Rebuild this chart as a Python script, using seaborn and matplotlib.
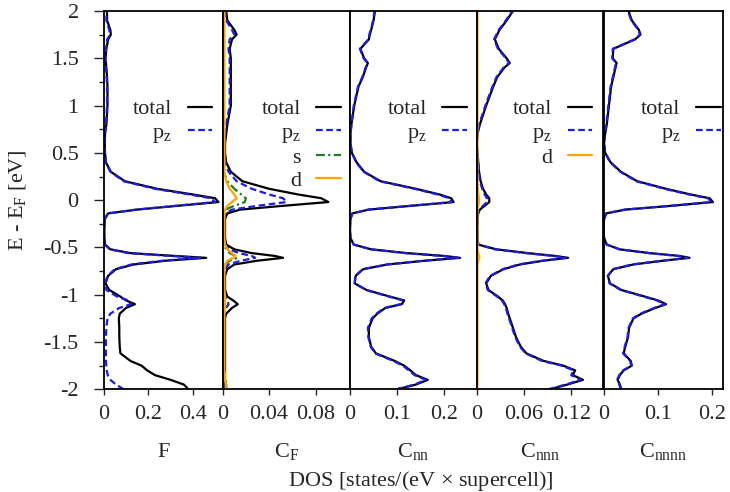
import matplotlib
matplotlib.use('Agg')
import seaborn as sns
import matplotlib.pyplot as plt
from matplotlib.ticker import MultipleLocator

# energy grid, E - E_F in eV
energy = [2.0, 1.9, 1.8, 1.75, 1.7, 1.6, 1.5, 1.45, 1.4, 1.3,
          1.2, 1.0, 0.8, 0.7, 0.6, 0.5, 0.4, 0.3, 0.2, 0.12,
          0.06, 0.02, -0.02, -0.06, -0.1, -0.14, -0.2, -0.3, -0.4, -0.47,
          -0.52, -0.56, -0.59, -0.61, -0.64, -0.68, -0.73, -0.8, -0.88, -0.95,
          -1.02, -1.06, -1.1, -1.14, -1.2, -1.25, -1.35, -1.45, -1.55, -1.62,
          -1.7, -1.75, -1.8, -1.85, -1.9, -1.95, -2.0]

# F
f_total = [0.015, 0.015, 0.030, 0.032, 0.020, 0.012, 0.008, 0.010, 0.012, 0.015,
           0.017, 0.017, 0.012, 0.006, 0.005, 0.006, 0.010, 0.032, 0.095, 0.240,
           0.400, 0.500, 0.515, 0.330, 0.150, 0.020, 0.005, 0.003, 0.003, 0.006,
           0.030, 0.120, 0.320, 0.460, 0.280, 0.135, 0.055, 0.020, 0.008, 0.025,
           0.075, 0.100, 0.140, 0.100, 0.072, 0.068, 0.070, 0.070, 0.072, 0.075,
           0.120, 0.170, 0.195, 0.230, 0.300, 0.360, 0.380]
f_pz = [0.012, 0.012, 0.025, 0.028, 0.016, 0.010, 0.007, 0.008, 0.010, 0.013,
        0.015, 0.015, 0.010, 0.005, 0.004, 0.005, 0.009, 0.030, 0.090, 0.230,
        0.385, 0.480, 0.500, 0.320, 0.145, 0.018, 0.004, 0.002, 0.002, 0.005,
        0.028, 0.110, 0.300, 0.430, 0.265, 0.125, 0.050, 0.017, 0.006, 0.012,
        0.060, 0.110, 0.122, 0.070, 0.030, 0.017, 0.012, 0.010, 0.010, 0.010,
        0.010, 0.012, 0.014, 0.018, 0.030, 0.055, 0.090]

# C_F
cf_total = [0.003, 0.004, 0.010, 0.012, 0.008, 0.006, 0.007, 0.007, 0.007, 0.007,
            0.007, 0.007, 0.004, 0.003, 0.002, 0.002, 0.003, 0.007, 0.017, 0.040,
            0.065, 0.085, 0.091, 0.052, 0.015, 0.004, 0.002, 0.002, 0.002, 0.003,
            0.010, 0.025, 0.045, 0.052, 0.030, 0.010, 0.004, 0.002, 0.002, 0.002,
            0.004, 0.009, 0.013, 0.008, 0.003, 0.002, 0.002, 0.002, 0.002, 0.002,
            0.002, 0.002, 0.002, 0.002, 0.002, 0.003, 0.003]
cf_pz = [0.002, 0.003, 0.008, 0.010, 0.006, 0.005, 0.006, 0.006, 0.006, 0.006,
         0.006, 0.006, 0.003, 0.002, 0.001, 0.001, 0.002, 0.005, 0.012, 0.025,
         0.040, 0.052, 0.055, 0.030, 0.008, 0.002, 0.001, 0.001, 0.001, 0.002,
         0.006, 0.014, 0.025, 0.028, 0.016, 0.005, 0.002, 0.001, 0.001, 0.001,
         0.002, 0.004, 0.005, 0.003, 0.001, 0.001, 0.001, 0.001, 0.001, 0.001,
         0.001, 0.001, 0.001, 0.001, 0.001, 0.001, 0.001]
cf_s = [0.0005, 0.0005, 0.0005, 0.0005, 0.0005, 0.0005, 0.0005, 0.0005, 0.0005, 0.0005,
        0.0005, 0.0005, 0.0005, 0.0005, 0.0005, 0.0005, 0.0005, 0.001, 0.004, 0.010,
        0.016, 0.020, 0.019, 0.010, 0.002, 0.0005, 0.0005, 0.0005, 0.0005, 0.001,
        0.003, 0.006, 0.011, 0.013, 0.006, 0.002, 0.0005, 0.0005, 0.0005, 0.0005,
        0.0005, 0.0005, 0.0005, 0.0005, 0.0005, 0.0005, 0.0005, 0.0005, 0.0005, 0.0005,
        0.0005, 0.0005, 0.0005, 0.0005, 0.0005, 0.0005, 0.0005]
cf_d = [0.0015, 0.0015, 0.0015, 0.0015, 0.0015, 0.0015, 0.0015, 0.0015, 0.0015, 0.0015,
        0.0015, 0.0015, 0.0015, 0.0015, 0.0015, 0.0015, 0.0015, 0.0015, 0.003, 0.006,
        0.010, 0.012, 0.008, 0.004, 0.002, 0.0015, 0.0015, 0.0015, 0.0015, 0.002,
        0.004, 0.008, 0.011, 0.009, 0.004, 0.002, 0.0015, 0.0015, 0.0015, 0.0015,
        0.002, 0.002, 0.002, 0.002, 0.0015, 0.0015, 0.0015, 0.0015, 0.0015, 0.0015,
        0.0015, 0.0015, 0.0015, 0.002, 0.002, 0.003, 0.003]

# C_nn
cnn_total = [0.053, 0.050, 0.045, 0.042, 0.040, 0.022, 0.030, 0.038, 0.034, 0.027,
             0.018, 0.009, 0.003, 0.001, 0.001, 0.004, 0.014, 0.030, 0.065, 0.140,
             0.190, 0.215, 0.220, 0.130, 0.040, 0.005, 0.001, 0.000, 0.001, 0.008,
             0.045, 0.120, 0.200, 0.234, 0.160, 0.080, 0.028, 0.012, 0.010, 0.035,
             0.085, 0.115, 0.110, 0.075, 0.058, 0.048, 0.040, 0.040, 0.045, 0.055,
             0.095, 0.115, 0.128, 0.140, 0.165, 0.140, 0.100]
cnn_pz = [0.052, 0.049, 0.044, 0.041, 0.039, 0.021, 0.029, 0.037, 0.033, 0.026,
          0.017, 0.008, 0.003, 0.001, 0.001, 0.004, 0.013, 0.029, 0.063, 0.137,
          0.186, 0.211, 0.216, 0.127, 0.039, 0.005, 0.001, 0.000, 0.001, 0.008,
          0.044, 0.117, 0.196, 0.229, 0.157, 0.078, 0.027, 0.011, 0.010, 0.034,
          0.083, 0.112, 0.107, 0.073, 0.056, 0.046, 0.038, 0.039, 0.044, 0.053,
          0.092, 0.112, 0.125, 0.137, 0.161, 0.137, 0.098]

# C_nnn
cnnn_total = [0.046, 0.038, 0.029, 0.026, 0.023, 0.028, 0.038, 0.042, 0.035, 0.026,
              0.021, 0.012, 0.004, 0.001, 0.000, 0.001, 0.002, 0.003, 0.005, 0.008,
              0.012, 0.016, 0.016, 0.010, 0.004, 0.002, 0.001, 0.001, 0.001, 0.002,
              0.025, 0.065, 0.100, 0.116, 0.085, 0.055, 0.034, 0.018, 0.012, 0.015,
              0.027, 0.033, 0.036, 0.038, 0.040, 0.042, 0.046, 0.050, 0.056, 0.063,
              0.085, 0.110, 0.125, 0.122, 0.135, 0.115, 0.093]
cnnn_pz = [0.045, 0.037, 0.028, 0.025, 0.022, 0.027, 0.037, 0.041, 0.034, 0.025,
           0.020, 0.011, 0.003, 0.001, 0.000, 0.001, 0.002, 0.003, 0.004, 0.007,
           0.010, 0.013, 0.013, 0.008, 0.003, 0.001, 0.001, 0.001, 0.001, 0.002,
           0.023, 0.062, 0.097, 0.113, 0.083, 0.053, 0.033, 0.017, 0.011, 0.014,
           0.026, 0.032, 0.035, 0.037, 0.039, 0.041, 0.045, 0.049, 0.055, 0.062,
           0.083, 0.108, 0.123, 0.120, 0.132, 0.113, 0.091]
cnnn_d = [0.001, 0.001, 0.001, 0.001, 0.001, 0.001, 0.001, 0.001, 0.001, 0.001,
          0.001, 0.001, 0.001, 0.001, 0.001, 0.001, 0.001, 0.001, 0.001, 0.0015,
          0.002, 0.003, 0.003, 0.002, 0.001, 0.001, 0.001, 0.001, 0.001, 0.001,
          0.001, 0.002, 0.003, 0.0035, 0.002, 0.001, 0.001, 0.001, 0.001, 0.001,
          0.001, 0.001, 0.001, 0.001, 0.001, 0.001, 0.001, 0.001, 0.001, 0.001,
          0.001, 0.001, 0.001, 0.001, 0.001, 0.001, 0.001]

# C_nnnn
cnnnn_total = [0.046, 0.052, 0.065, 0.068, 0.058, 0.018, 0.017, 0.024, 0.022, 0.018,
               0.014, 0.010, 0.006, 0.003, 0.001, 0.003, 0.013, 0.032, 0.062, 0.115,
               0.160, 0.195, 0.201, 0.125, 0.040, 0.005, 0.001, 0.000, 0.001, 0.006,
               0.030, 0.085, 0.140, 0.158, 0.110, 0.055, 0.018, 0.008, 0.012, 0.033,
               0.076, 0.100, 0.115, 0.095, 0.070, 0.055, 0.047, 0.045, 0.040, 0.037,
               0.050, 0.052, 0.037, 0.030, 0.026, 0.030, 0.033]
cnnnn_pz = [0.045, 0.051, 0.064, 0.067, 0.057, 0.017, 0.016, 0.023, 0.021, 0.017,
            0.013, 0.009, 0.005, 0.002, 0.001, 0.003, 0.012, 0.031, 0.060, 0.112,
            0.157, 0.192, 0.198, 0.122, 0.039, 0.005, 0.001, 0.000, 0.001, 0.006,
            0.029, 0.083, 0.137, 0.155, 0.108, 0.053, 0.017, 0.008, 0.011, 0.032,
            0.074, 0.098, 0.113, 0.093, 0.068, 0.054, 0.046, 0.044, 0.039, 0.036,
            0.049, 0.051, 0.036, 0.029, 0.025, 0.029, 0.032]

panel_names = ['F', r'C$_\mathrm{F}$', r'C$_\mathrm{nn}$', r'C$_\mathrm{nnn}$', r'C$_\mathrm{nnnn}$']
panel_xmax = [0.534, 0.1097, 0.269, 0.161, 0.2195]
panel_xticks = [[0, 0.2, 0.4], [0, 0.04, 0.08], [0, 0.1, 0.2], [0, 0.06, 0.12], [0, 0.1, 0.2]]
panel_xticklabels = [['0', '0.2', '0.4'], ['0', '0.04', '0.08'], ['0', '0.1', '0.2'],
                     ['0', '0.06', '0.12'], ['0', '0.1', '0.2']]
yticks = [-2, -1.5, -1, -0.5, 0, 0.5, 1, 1.5, 2]
yticklabels = ['-2', '-1.5', '-1', '-0.5', '0', '0.5', '1', '1.5', '2']

# styles per orbital
blue = '#1c1cf0'
styles = {
    'total': dict(color='black', linestyle='-'),
    'pz': dict(color=blue, linestyle=(0, (3, 1.6))),
    's': dict(color='#1e7d1e', linestyle=(0, (4, 1.5, 1, 1.5))),
    'd': dict(color='#ffa500', linestyle='-'),
}
labels = {'total': 'total', 'pz': r'p$_\mathrm{z}$', 's': 's', 'd': 'd'}

panel_curves = [
    [('total', f_total), ('pz', f_pz)],
    [('total', cf_total), ('pz', cf_pz), ('s', cf_s), ('d', cf_d)],
    [('total', cnn_total), ('pz', cnn_pz)],
    [('total', cnnn_total), ('pz', cnnn_pz), ('d', cnnn_d)],
    [('total', cnnnn_total), ('pz', cnnnn_pz)],
]
legend_right = [0.91, 0.928, 0.922, 0.91, 0.98]

sns.set_style('ticks')
plt.rcParams['font.family'] = ['Liberation Serif', 'DejaVu Serif']
plt.rcParams['mathtext.fontset'] = 'custom'
plt.rcParams['mathtext.rm'] = 'Liberation Serif'
plt.rcParams['mathtext.it'] = 'Liberation Serif'
plt.rcParams['axes.unicode_minus'] = False
plt.rcParams['font.size'] = 16

W, H = 730, 492
fig = plt.figure(figsize=(7.3, 4.92), dpi=100)
edges = [103.7, 222.7, 350.0, 476.7, 603.5, 723.0]
y_top, y_bot = 11.0, 389.3

for i in range(5):
    x0, x1 = edges[i], edges[i + 1]
    ax = fig.add_axes([x0 / W, 1 - y_bot / H, (x1 - x0) / W, (y_bot - y_top) / H])
    for key, vals in panel_curves[i]:
        sns.lineplot(x=vals, y=energy, orient='y', estimator=None, sort=True,
                     linewidth=1.6, label=labels[key], ax=ax, **styles[key])
    ax.set_xlim(0, panel_xmax[i])
    ax.set_ylim(-2, 2)
    ax.set_xticks(panel_xticks[i], panel_xticklabels[i])
    ax.tick_params(axis='x', direction='out', length=4, width=1, pad=7, labelsize=16)
    if i == 0:
        ax.set_yticks(yticks, yticklabels)
        ax.yaxis.set_minor_locator(MultipleLocator(0.25))
        ax.tick_params(axis='y', which='major', direction='out', length=7, width=1, pad=11, labelsize=16)
        ax.tick_params(axis='y', which='minor', direction='out', length=3.5, width=1)
    else:
        ax.tick_params(axis='y', which='both', left=False, labelleft=False)
    for sp in ax.spines.values():
        sp.set_linewidth(1.3)
        sp.set_color('black')
    ax.set_xlabel(panel_names[i], fontsize=16)
    ax.xaxis.set_label_coords(0.5, -(456.7 - y_bot) / (y_bot - y_top))
    ax.xaxis.label.set_verticalalignment('baseline')
    ax.set_ylabel('')
    ax.legend(loc='upper right', bbox_to_anchor=(legend_right[i], 0.768), frameon=False,
              markerfirst=False, handlelength=1.1, handletextpad=0.7, labelspacing=0.12,
              borderpad=0, borderaxespad=0, fontsize=16)

fig.text(18 / W, 1 - 200 / H, r'E - E$_\mathrm{F}$ [eV]', rotation=90, ha='center', va='center', fontsize=16)
fig.text(421 / W, 1 - 486 / H, r'DOS [states/(eV $\times$ supercell)]', ha='center', va='baseline', fontsize=16)

fig.savefig('out.png', dpi=100)
